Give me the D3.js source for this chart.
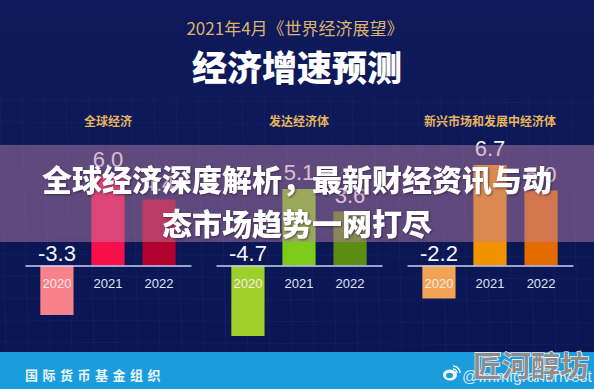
<!DOCTYPE html>
<html>
<head>
<meta charset="utf-8">
<script src="https://cdn.jsdelivr.net/npm/d3@7"></script>
<style>
	body { margin: 0; background: #0b1654; }
	svg { display: block; }
</style>
</head>
<body>
<svg id="svg" width="594" height="389"></svg>
<script>
// data
const years = ['2020', '2021', '2022'];
const groups = ['全球经济', '发达经济体', '新兴市场和发展中经济体'];
const globalGrowth = [-3.3, 6.0, 4.4];
const advancedGrowth = [-4.7, 5.1, 3.6];
const emergingGrowth = [-2.2, 6.7, 5.0];
const groupColors = [
	['#f7828c', '#f5104c', '#b2002f'],
	['#9fd12c', '#7ccb18', '#5b8d12'],
	['#f2a356', '#f39200', '#e36c00']
];

const series = [globalGrowth, advancedGrowth, emergingGrowth];
const W = 594;
const H = 389;
const fontCN = '"Noto Sans CJK SC", "Noto Sans", sans-serif';
const fontNum = '"Liberation Sans", Arial, sans-serif';

const svg = d3.select('#svg');

// background
const defs = svg.append('defs');
const bg = defs.append('linearGradient').attr('id', 'bg').attr('x1', 0).attr('y1', 0).attr('x2', 0).attr('y2', 1);
bg.append('stop').attr('offset', '0%').attr('stop-color', '#0e1a5b');
bg.append('stop').attr('offset', '100%').attr('stop-color', '#0a1652');
svg.append('rect').attr('width', W).attr('height', H).attr('fill', 'url(#bg)');

// faint grid texture
const grid = svg.append('g').attr('stroke', '#6f84d6').attr('stroke-opacity', 0.07);
d3.range(0, W, 22).forEach((x) => {
	grid.append('line').attr('x1', x).attr('x2', x + 6).attr('y1', 95).attr('y2', 352);
});
d3.range(100, 352, 22).forEach((y) => {
	grid.append('line').attr('x1', 0).attr('x2', W).attr('y1', y).attr('y2', y + 3);
});

// header
svg.append('text')
	.attr('x', 295).attr('y', 35)
	.attr('text-anchor', 'middle')
	.attr('font-family', fontCN).attr('font-size', 17)
	.attr('fill', '#dcb36c')
	.text('2021年4月《世界经济展望》');

svg.append('text')
	.attr('x', 297).attr('y', 81)
	.attr('text-anchor', 'middle')
	.attr('font-family', fontCN).attr('font-size', 35).attr('font-weight', 900)
	.attr('fill', '#ffffff')
	.text('经济增速预测');

// scales
const panelScale = d3.scaleBand().domain(groups).range([25, 573]).paddingInner(0.131);
const xscale = d3.scaleBand().domain(years).range([0, panelScale.bandwidth()]).paddingInner(0.35).paddingOuter(0.3);
const yscale = d3.scaleLinear().domain([0, 6.7]).range([265.5, 165]);

groups.forEach((g, gi) => {
	const panel = svg.append('g').attr('transform', `translate(${panelScale(g)}, 0)`);
	const rows = years.map((yr, i) => ({ year: yr, value: series[gi][i], color: groupColors[gi][i] }));

	panel.append('text')
		.attr('x', panelScale.bandwidth() / 2).attr('y', 126)
		.attr('text-anchor', 'middle')
		.attr('font-family', fontCN).attr('font-size', 12).attr('font-weight', 'bold')
		.attr('fill', '#e6b45c')
		.text(g);

	panel.selectAll('rect')
		.data(rows)
		.enter()
		.append('rect')
		.attr('x', (d) => xscale(d.year))
		.attr('y', (d) => Math.min(yscale(d.value), yscale(0)))
		.attr('width', xscale.bandwidth())
		.attr('height', (d) => Math.abs(yscale(d.value) - yscale(0)))
		.attr('fill', (d) => d.color);

	// axis with year labels
	const axis = panel.append('g')
		.attr('transform', `translate(0, ${yscale(0)})`)
		.call(d3.axisBottom(xscale).tickSize(0).tickPadding(13));
	axis.select('.domain').attr('stroke', '#c9d2f2').attr('stroke-width', 1.5);
	axis.selectAll('text')
		.attr('font-family', fontNum).attr('font-size', 13)
		.attr('fill', (d, i) => (i === 0 ? '#fde6e6' : '#dfe5f5'));

	panel.selectAll('.val')
		.data(rows)
		.enter()
		.append('text')
		.attr('class', 'val')
		.attr('x', (d) => xscale(d.year) + xscale.bandwidth() / 2)
		.attr('y', (d) => (d.value < 0 ? yscale(0) - 5 : yscale(d.value) - 9))
		.attr('text-anchor', 'middle')
		.attr('font-family', fontNum).attr('font-size', 22)
		.attr('fill', '#f2f4fa')
		.text((d) => d.value.toFixed(1));
});

// footer
svg.append('rect').attr('x', 0).attr('y', 352).attr('width', W).attr('height', H - 352).attr('fill', '#1b9ddd');
svg.append('text')
	.attr('x', 25).attr('y', 380)
	.attr('font-family', fontCN).attr('font-size', 13).attr('font-weight', 'bold')
	.attr('letter-spacing', 4.5)
	.attr('fill', '#eaf5fc')
	.text('国际货币基金组织');

// weibo mark
const wb = svg.append('g').attr('transform', 'translate(450, 375)');
wb.append('ellipse').attr('rx', 7).attr('ry', 5.5).attr('fill', '#f4f8fb');
wb.append('ellipse').attr('cx', -0.5).attr('cy', 0.5).attr('rx', 3.5).attr('ry', 2.8).attr('fill', '#1b9ddd');
wb.append('path').attr('d', 'M3,-9 A7,7 0 0 1 10,-2').attr('fill', 'none').attr('stroke', '#f4f8fb').attr('stroke-width', 1.6);
wb.append('path').attr('d', 'M3,-6 A4,4 0 0 1 7,-2').attr('fill', 'none').attr('stroke', '#f4f8fb').attr('stroke-width', 1.4);
svg.append('text')
	.attr('x', 462).attr('y', 382)
	.attr('font-family', fontNum).attr('font-size', 16)
	.attr('fill', '#cfe7f6')
	.text('@ImmigrantInvest');
svg.append('text')
	.attr('x', 531).attr('y', 377)
	.attr('text-anchor', 'middle')
	.attr('font-family', fontCN).attr('font-size', 29).attr('font-weight', 'bold')
	.attr('fill', '#8d8d8d').attr('stroke', '#ffffff').attr('stroke-width', 1.2)
	.attr('paint-order', 'stroke')
	.text('匠河醇坊');

// headline overlay band
svg.append('rect')
	.attr('x', 0).attr('y', 145).attr('width', W).attr('height', 97)
	.attr('fill', 'rgb(190,130,168)').attr('fill-opacity', 0.47);

const headline = ['全球经济深度解析，最新财经资讯与动', '态市场趋势一网打尽'];
svg.selectAll('.headline')
	.data(headline)
	.enter()
	.append('text')
	.attr('class', 'headline')
	.attr('x', 297)
	.attr('y', (d, i) => 191 + i * 44)
	.attr('text-anchor', 'middle')
	.attr('font-family', fontCN).attr('font-size', 30).attr('font-weight', 900)
	.attr('fill', '#ffffff')
	.style('filter', 'drop-shadow(1px 1px 1px rgba(40,20,50,0.6))')
	.text((d) => d);
</script>
</body>
</html>
